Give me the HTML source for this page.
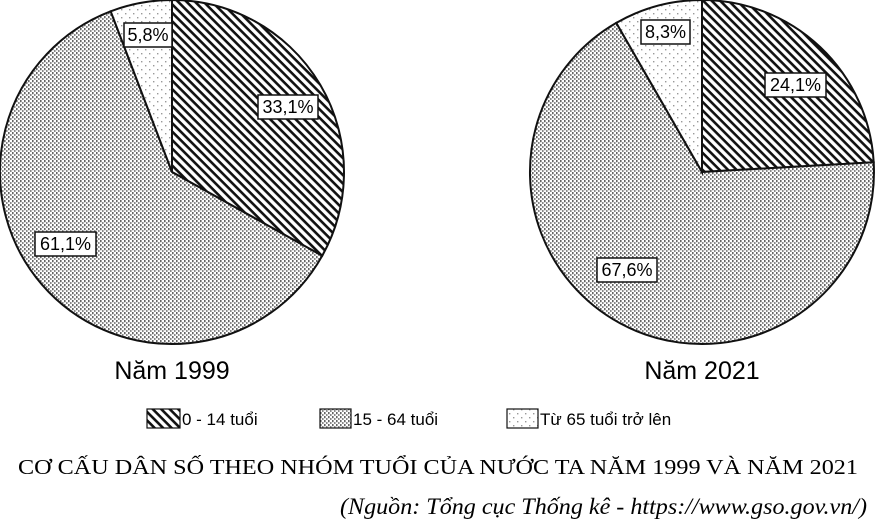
<!DOCTYPE html>
<html><head><meta charset="utf-8"><style>
body{margin:0;width:876px;height:527px;background:#fff;overflow:hidden}
svg{position:absolute;left:0;top:0}
</style></head><body>
<svg width="876" height="527" viewBox="0 0 876 527" xmlns="http://www.w3.org/2000/svg">
<defs>
<pattern id="h" width="6" height="6" patternUnits="userSpaceOnUse" patternTransform="rotate(45)">
<rect width="6" height="6" fill="#fff"/><rect x="0" y="0" width="6" height="2.6" fill="#111"/>
</pattern>
<pattern id="d" width="4" height="4" patternUnits="userSpaceOnUse">
<rect width="4" height="4" fill="#fff"/><rect x="0" y="0" width="1.6" height="2.2" fill="#666"/><rect x="2" y="2" width="1.6" height="2.2" fill="#888"/>
</pattern>
<pattern id="s" width="8" height="8" patternUnits="userSpaceOnUse">
<rect width="8" height="8" fill="#fff"/><rect x="1" y="1" width="1.4" height="1.4" fill="#999"/><rect x="5" y="5" width="1.4" height="1.4" fill="#999"/>
</pattern>
</defs>
<g stroke="#111" stroke-width="2">
<path d="M172,172 L172,0 A172,172 0 0 1 322.2,255.8 Z" fill="url(#h)"/>
<path d="M172,172 L322.2,255.8 A172,172 0 1 1 110.7,11.3 Z" fill="url(#d)"/>
<path d="M172,172 L110.7,11.3 A172,172 0 0 1 172,0 Z" fill="url(#s)"/>
<path d="M702,172 L702,0 A172,172 0 0 1 873.7,162.3 Z" fill="url(#h)"/>
<path d="M702,172 L873.7,162.3 A172,172 0 1 1 616.3,22.9 Z" fill="url(#d)"/>
<path d="M702,172 L616.3,22.9 A172,172 0 0 1 702,0 Z" fill="url(#s)"/>
</g>
<g font-family="Liberation Sans, sans-serif" font-size="18" text-anchor="middle">
<g stroke="#111" stroke-width="1.5" fill="#fff">
<rect x="124" y="23" width="48" height="24"/>
<rect x="258" y="95" width="60" height="24"/>
<rect x="35" y="232" width="61" height="24"/>
<rect x="641" y="20" width="49" height="24"/>
<rect x="765" y="73" width="61" height="24"/>
<rect x="597" y="258" width="60" height="24"/>
</g>
<text x="148" y="41">5,8%</text>
<text x="288" y="113">33,1%</text>
<text x="65.5" y="250">61,1%</text>
<text x="665.5" y="38">8,3%</text>
<text x="795.5" y="91">24,1%</text>
<text x="627" y="276">67,6%</text>
<text x="172" y="379" font-size="25">Năm 1999</text>
<text x="702" y="379" font-size="25">Năm 2021</text>
</g>
<g stroke="#111" stroke-width="1.2">
<rect x="147" y="409" width="33" height="19" fill="url(#h)"/>
<rect x="320" y="409" width="31" height="19" fill="url(#d)"/>
<rect x="507" y="409" width="31" height="19" fill="url(#s)"/>
</g>
<g font-family="Liberation Sans, sans-serif" font-size="17">
<text x="182" y="425">0 - 14 tuổi</text>
<text x="353" y="425">15 - 64 tuổi</text>
<text x="540" y="425">Từ 65 tuổi trở lên</text>
</g>
<text x="438" y="474" text-anchor="middle" font-family="Liberation Serif, serif" font-size="21" textLength="840" lengthAdjust="spacingAndGlyphs">CƠ CẤU DÂN SỐ THEO NHÓM TUỔI CỦA NƯỚC TA NĂM 1999 VÀ NĂM 2021</text>
<text x="340" y="514" font-family="Liberation Serif, serif" font-size="23" font-style="italic" textLength="527" lengthAdjust="spacingAndGlyphs">(Nguồn: Tổng cục Thống kê - https://www.gso.gov.vn/)</text>
</svg>
</body></html>
